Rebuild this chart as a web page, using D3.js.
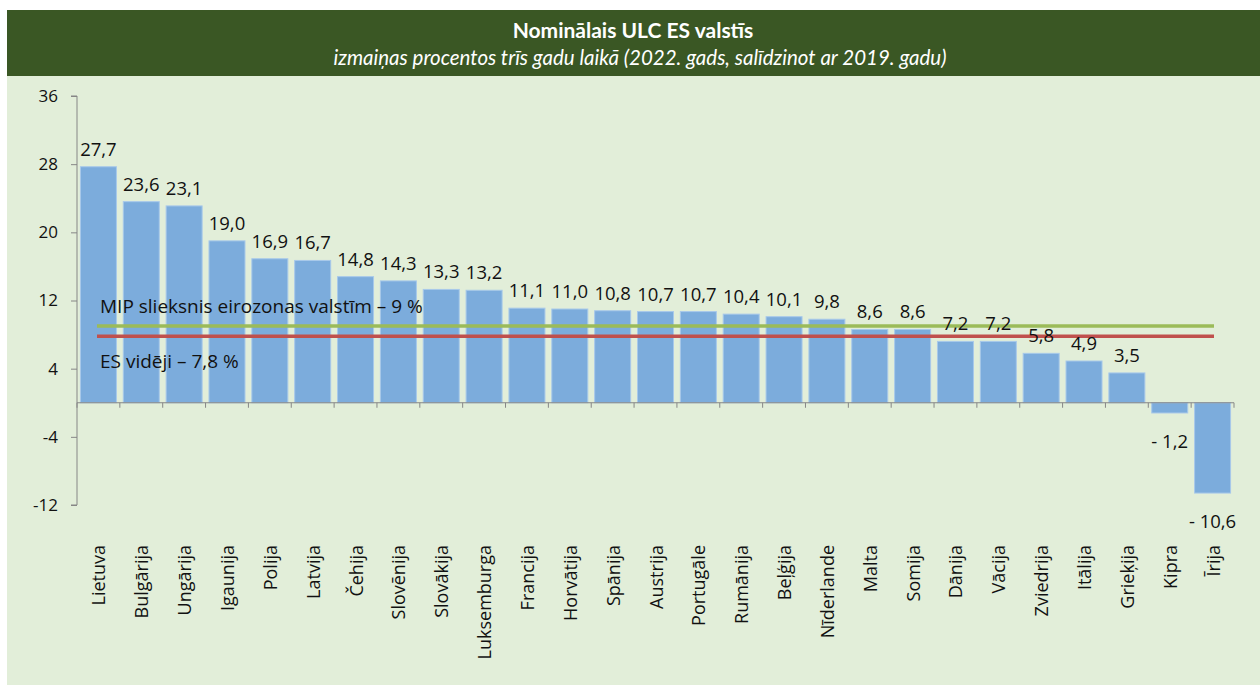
<!DOCTYPE html>
<html lang="lv">
<head>
<meta charset="utf-8">
<script src="https://cdn.jsdelivr.net/npm/d3@7"></script>
<style>
  html, body { margin: 0; padding: 0; background: #ffffff; }
  svg { display: block; }
</style>
</head>
<body>
<svg id="chart" width="1260" height="686"></svg>
<script>
// Nominal unit labour cost change, 2022 vs 2019, %
const countries = ["Lietuva", "Bulgārija", "Ungārija", "Igaunija", "Polija", "Latvija", "Čehija",
  "Slovēnija", "Slovākija", "Luksemburga", "Francija", "Horvātija", "Spānija", "Austrija",
  "Portugāle", "Rumānija", "Beļģija", "Nīderlande", "Malta", "Somija", "Dānija", "Vācija",
  "Zviedrija", "Itālija", "Grieķija", "Kipra", "Īrija"];
const ulcChange = [27.7, 23.6, 23.1, 19.0, 16.9, 16.7, 14.8, 14.3, 13.3, 13.2, 11.1, 11.0, 10.8,
  10.7, 10.7, 10.4, 10.1, 9.8, 8.6, 8.6, 7.2, 7.2, 5.8, 4.9, 3.5, -1.2, -10.6];
const yTicks = [36, 28, 20, 12, 4, -4, -12];
const mipThreshold = 9;
const euAverage = 7.8;
const mipLabel = "MIP slieksnis eirozonas valstīm – 9 %";
const euLabel = "ES vidēji – 7,8 %";
const title = "Nominālais ULC ES valstīs";
const subtitle = "izmaiņas procentos trīs gadu laikā (2022. gads, salīdzinot ar 2019. gadu)";

const svg = d3.select("#chart");
const W = 1260, H = 686;
const font = "'Open Sans', 'Noto Sans', sans-serif";

// panel + header band
svg.append("rect").attr("x", 7).attr("y", 10).attr("width", W - 7).attr("height", H - 11)
  .attr("fill", "#e2eed9");
svg.append("rect").attr("x", 7).attr("y", 10).attr("width", W - 7).attr("height", 66)
  .attr("fill", "#3a5724");
svg.append("text").attr("x", 633).attr("y", 38).attr("text-anchor", "middle")
  .attr("fill", "#ffffff").attr("font-family", "Lato, 'Open Sans', sans-serif")
  .attr("font-weight", "bold").attr("font-size", 21).text(title);
svg.append("text").attr("x", 640).attr("y", 65).attr("text-anchor", "middle")
  .attr("fill", "#ffffff").attr("font-family", "Lato, 'Open Sans', sans-serif")
  .attr("font-style", "italic").attr("font-size", 20.5).text(subtitle);

const plotLeft = 77, plotRight = 1234;
const x = d3.scaleBand().domain(countries).range([plotLeft, plotRight])
  .paddingInner(0.16).paddingOuter(0.08);
const y = d3.scaleLinear().domain([-12, 36]).range([505, 96]);

const data = countries.map((c, i) => ({ c, v: ulcChange[i] }));

// bars
svg.append("g").selectAll("rect").data(data).join("rect")
  .attr("x", d => x(d.c))
  .attr("width", x.bandwidth())
  .attr("y", d => y(Math.max(0, d.v)))
  .attr("height", d => Math.abs(y(d.v) - y(0)))
  .attr("fill", "#7cacdc")
  .attr("stroke", "#a8c9ea").attr("stroke-width", 1);

// reference lines
const lineX0 = 97, lineX1 = 1214;
svg.append("line").attr("x1", lineX0).attr("x2", lineX1)
  .attr("y1", y(mipThreshold)).attr("y2", y(mipThreshold))
  .attr("stroke", "#9bbb59").attr("stroke-width", 3.5);
svg.append("line").attr("x1", lineX0).attr("x2", lineX1)
  .attr("y1", y(euAverage)).attr("y2", y(euAverage))
  .attr("stroke", "#c0504d").attr("stroke-width", 3.5);
svg.append("text").attr("x", 100).attr("y", y(mipThreshold) - 13)
  .attr("font-family", font).attr("font-size", 19).attr("fill", "#111").text(mipLabel);
svg.append("text").attr("x", 100).attr("y", y(euAverage) + 32)
  .attr("font-family", font).attr("font-size", 19).attr("fill", "#111").text(euLabel);

// value labels
const fmt = v => v < 0 ? "- " + d3.format(".1f")(-v).replace(".", ",")
                       : d3.format(".1f")(v).replace(".", ",");
svg.append("g").selectAll("text").data(data).join("text")
  .attr("x", d => x(d.c) + x.bandwidth() / 2)
  .attr("y", d => d.v >= 0 ? y(d.v) - 11 : y(d.v) + 35)
  .attr("text-anchor", "middle")
  .attr("font-family", font).attr("font-size", 18.5).attr("fill", "#111")
  .text(d => fmt(d.v));

// y axis
const yAxis = svg.append("g").attr("transform", `translate(${plotLeft},0)`)
  .call(d3.axisLeft(y).tickValues(yTicks).tickSize(6).tickPadding(13)
    .tickFormat(d => d));
yAxis.select(".domain").attr("stroke", "#868686").attr("d", `M-6,${y(36)}H0V${y(-12)}H-6`);
yAxis.selectAll(".tick line").attr("stroke", "#868686");
yAxis.selectAll(".tick text").attr("font-family", font).attr("font-size", 17).attr("fill", "#111");

// x axis at zero with category boundary ticks
const xAxisG = svg.append("g");
xAxisG.append("line").attr("x1", plotLeft).attr("x2", plotRight)
  .attr("y1", y(0)).attr("y2", y(0)).attr("stroke", "#868686");
xAxisG.selectAll("line.tk").data(d3.range(countries.length + 1)).join("line")
  .attr("class", "tk")
  .attr("x1", i => plotLeft + (plotRight - plotLeft) * i / countries.length)
  .attr("x2", i => plotLeft + (plotRight - plotLeft) * i / countries.length)
  .attr("y1", y(0)).attr("y2", y(0) + 5).attr("stroke", "#868686");

// category labels, rotated
svg.append("g").selectAll("text").data(countries).join("text")
  .attr("transform", d => `translate(${x(d) + x.bandwidth() / 2 + 7},545) rotate(-90)`)
  .attr("text-anchor", "end")
  .attr("font-family", font).attr("font-size", 18).attr("fill", "#111")
  .text(d => d);
</script>
</body>
</html>
